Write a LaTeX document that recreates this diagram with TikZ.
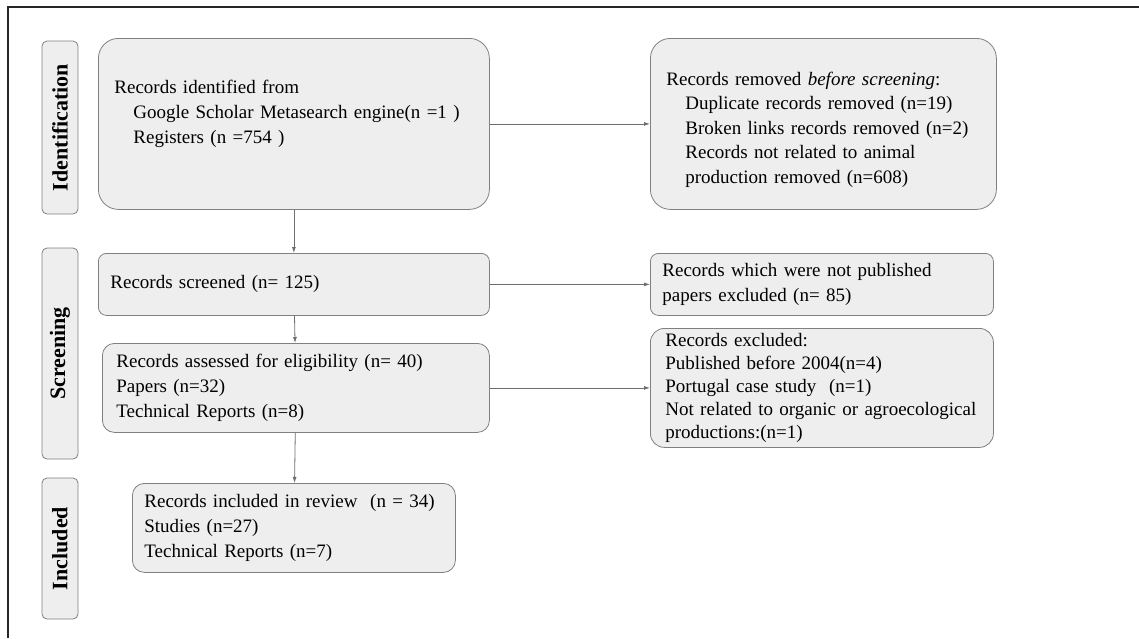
\documentclass[tikz,border=0pt]{standalone}
\usepackage{fontspec}
\setmainfont{Liberation Serif}
\usetikzlibrary{arrows.meta}
\definecolor{boxgray}{HTML}{EEEEEE}
\definecolor{linegray}{HTML}{808080}
\definecolor{arrowgray}{HTML}{6E6E6E}
\begin{document}
\begin{tikzpicture}[x=1pt, y=-1pt, line width=0.8pt,
    box/.style = {draw=linegray, fill=boxgray, anchor=north west, align=left, inner xsep=16pt, inner ysep=0pt, font=\fontsize{19}{25}\selectfont},
    stage/.style = {draw=linegray, fill=boxgray, rounded corners=5pt, rotate=90, minimum height=36pt, inner sep=0pt, font=\fontsize{22}{26}\selectfont\bfseries},
    arr/.style = {draw=arrowgray, -{Latex[length=6pt, width=4pt]}}]
    \useasboundingbox (0,0) rectangle (1139,638);
    \draw[line width=1.2pt, draw=black!85] (8,638) -- (8,7) -- (1139,7);
    \node[stage, minimum width=173pt] (sid) at (60,127.5) {Identification};
    \node[stage, minimum width=211pt] (sscr) at (60,353.5) {Screening};
    \node[stage, minimum width=141pt] (sinc) at (60,548.5) {Included};
    \node[box, rounded corners=20pt, minimum width=391pt, minimum height=171pt, text width=359pt] (idf) at (98,38)
        {Records identified from\\ \hspace*{19pt}Google Scholar Metasearch engine(n =1 )\\ \hspace*{19pt}Registers (n =754 )\\ \mbox{}};
    \node[box, rounded corners=20pt, minimum width=346pt, minimum height=171pt, text width=314pt, font=\fontsize{19}{24.5}\selectfont] (rem) at (650,38)
        {\mbox{}\\ Records removed \textit{before screening}:\\ \hspace*{19pt}Duplicate records removed (n=19)\\ \hspace*{19pt}Broken links records removed (n=2)\\ \hspace*{19pt}Records not related to animal\\ \hspace*{19pt}production removed (n=608)};
    \node[box, rounded corners=8pt, minimum width=391pt, minimum height=62pt, inner xsep=12pt, text width=367pt] (scr) at (98,253)
        {Records screened (n= 125)};
    \node[box, rounded corners=8pt, minimum width=343pt, minimum height=62pt, inner xsep=12pt, text width=319pt] (npb) at (650,253)
        {Records which were not published\\ papers excluded (n= 85)};
    \node[box, rounded corners=12pt, minimum width=387pt, minimum height=89pt, inner xsep=14pt, text width=359pt] (elg) at (102,343)
        {Records assessed for eligibility (n= 40)\\ Papers (n=32)\\ Technical Reports (n=8)};
    \node[box, rounded corners=14pt, minimum width=343pt, minimum height=119pt, inner xsep=15pt, text width=313pt, font=\fontsize{19}{23}\selectfont] (exc) at (650,328)
        {Records excluded:\\ Published before 2004(n=4)\\ Portugal case study\ \ (n=1)\\ Not related to organic or agroecological\\ productions:(n=1)};
    \node[box, rounded corners=12pt, minimum width=323pt, minimum height=89pt, inner xsep=12pt, text width=299pt] (inc) at (132,483)
        {Records included in review\ \ (n = 34)\\ Studies (n=27)\\ Technical Reports (n=7)};
    \draw[arr] (idf) -- (rem);
    \draw[arr] (idf) -- (scr);
    \draw[arr] (scr) -- (npb);
    \draw[arr] (scr) -- (elg);
    \draw[arr] (elg) -- (exc);
    \draw[arr] (elg) -- (inc);
\end{tikzpicture}
\end{document}
